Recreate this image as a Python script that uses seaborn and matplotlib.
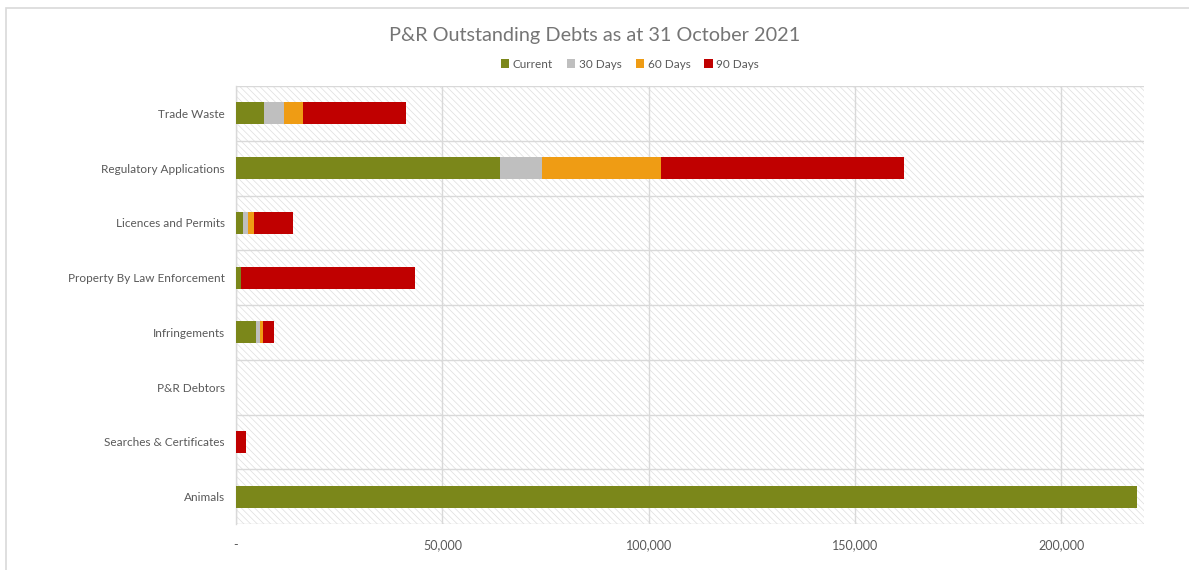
import numpy as np
import pandas as pd
import matplotlib
matplotlib.use("Agg")
import matplotlib.pyplot as plt
from matplotlib.patches import Rectangle, Patch
from matplotlib.ticker import FuncFormatter, MultipleLocator
import seaborn as sns

# Outstanding debt by category and ageing bucket
categories = [
    "Trade Waste",
    "Regulatory Applications",
    "Licences and Permits",
    "Property By Law Enforcement",
    "Infringements",
    "P&R Debtors",
    "Searches & Certificates",
    "Animals",
]
current = [6900, 64000, 1800, 1250, 4900, 0, 0, 218400]
days_30 = [4850, 10250, 1200, 0, 950, 0, 0, 0]
days_60 = [4550, 28800, 1300, 0, 650, 0, 0, 0]
days_90 = [24900, 58700, 9450, 42150, 2700, 0, 2400, 0]

series_names = ["Current", "30 Days", "60 Days", "90 Days"]
series_colors = ["#7b871a", "#bfbfbf", "#ef9c14", "#c00000"]

sns.set_theme(style="white")
plt.rcParams["font.family"] = ["Lato", "DejaVu Sans"]
plt.rcParams["hatch.color"] = "#dedede"
plt.rcParams["hatch.linewidth"] = 0.5

text_grey = "#595959"
line_grey = "#d9d9d9"

df = pd.DataFrame({
    "category": categories,
    "Current": current,
    "30 Days": days_30,
    "60 Days": days_60,
    "90 Days": days_90,
})
cum = df[series_names].cumsum(axis=1)

fig = plt.figure(figsize=(11.89, 5.70), dpi=100)
ax = fig.add_axes([236 / 1189, 1 - 524 / 570, (1144 - 236) / 1189, (524 - 86) / 570])

# hatched plot-area background
ax.add_patch(Rectangle((0, 0), 1, 1, transform=ax.transAxes, facecolor="white",
                       edgecolor="#dedede", hatch="\\\\\\\\\\", linewidth=0, zorder=0))

# stacked bars: draw cumulative totals from the outermost segment inward
for name, color in reversed(list(zip(series_names, series_colors))):
    sns.barplot(x=cum[name], y=df["category"], order=categories, orient="h",
                color=color, width=0.4, linewidth=0, saturation=1, ax=ax, zorder=3)

ax.set_xlim(0, 220000)
ax.set_ylim(7.5, -0.5)
ax.set_xlabel("")
ax.set_ylabel("")

ax.xaxis.set_major_locator(MultipleLocator(50000))
ax.xaxis.set_major_formatter(FuncFormatter(lambda v, p: "-" if v == 0 else f"{v:,.0f}"))
ax.set_yticks(np.arange(-0.5, 8.0, 1.0), minor=True)
ax.grid(True, axis="x", which="major", color=line_grey, linewidth=1.0, zorder=1)
ax.grid(True, axis="y", which="minor", color=line_grey, linewidth=1.0, zorder=1)
ax.grid(False, axis="y", which="major")
ax.set_axisbelow(True)

ax.tick_params(axis="x", which="both", length=0, pad=11, labelsize=9, labelcolor=text_grey)
ax.tick_params(axis="y", which="both", length=0, pad=8, labelsize=8.5, labelcolor=text_grey)

for side in ["top", "right", "bottom"]:
    ax.spines[side].set_visible(False)
ax.spines["left"].set_color(line_grey)
ax.spines["left"].set_linewidth(1.0)

fig.text(0.5, 1 - 35 / 570, "P&R Outstanding Debts as at 31 October 2021",
         ha="center", va="center", fontsize=14.3, color="#757575")

handles = [Patch(facecolor=c, edgecolor="none", label=n) for n, c in zip(series_names, series_colors)]
fig.legend(handles=handles, loc="center", bbox_to_anchor=(630 / 1189, 1 - 64 / 570), ncol=4,
           frameon=False, fontsize=8.5, labelcolor=text_grey, handlelength=0.7,
           handleheight=0.7, handletextpad=0.3, columnspacing=1.2)

# outer chart border
fig.patches.append(Rectangle((6 / 1189, -0.05), 1.2, 1 - 8 / 570 + 0.05, transform=fig.transFigure,
                             fill=False, edgecolor=line_grey, linewidth=1.2))

fig.savefig("out.png", dpi=100)
